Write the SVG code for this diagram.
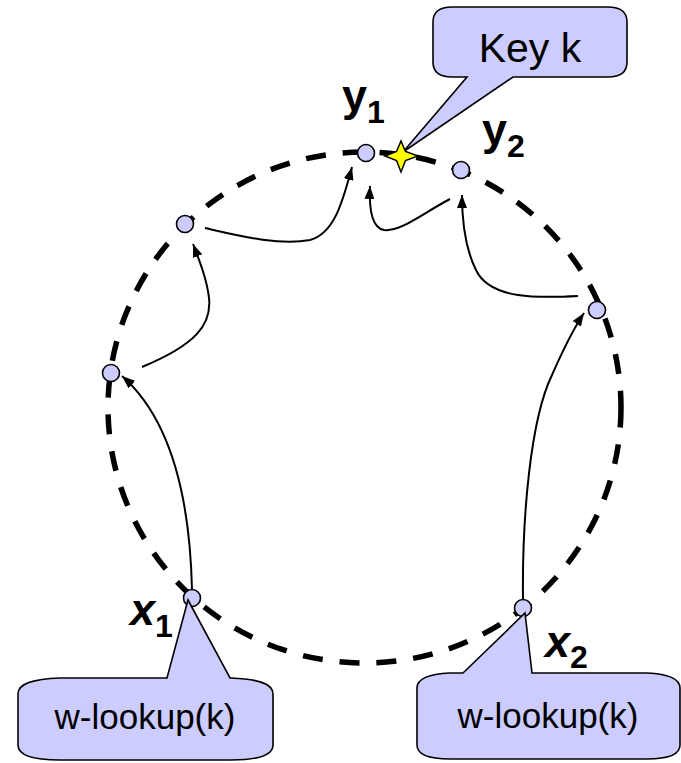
<svg xmlns="http://www.w3.org/2000/svg" width="681" height="763" viewBox="0 0 681 763">
  <style>
    .ring { fill: none; stroke: #000; stroke-width: 5.5; stroke-dasharray: 20 17; }
    .hop { fill: none; stroke: #000; stroke-width: 2; marker-end: url(#arrow); }
    .node { fill: #ccccff; stroke: #000; stroke-width: 1.6; }
    .callout { fill: #ccccff; stroke: #000; stroke-width: 1.6; stroke-linejoin: miter; }
    .callout-text { font-family: "Liberation Sans", Arial, sans-serif; fill: #000; text-anchor: middle; }
    .label { font-family: "Liberation Sans", Arial, sans-serif; font-weight: bold; font-size: 45px; fill: #000; }
    .sub { font-size: 32px; }
    .star { fill: #ffff00; stroke: #000; stroke-width: 1.5; stroke-linejoin: miter; }
  </style>
  <defs>
    <marker id="arrow" viewBox="0 0 13 10" refX="13" refY="5" markerWidth="13" markerHeight="10" markerUnits="userSpaceOnUse" orient="auto">
      <path d="M0,0 L13,5 L0,10 Z" fill="#000"/>
    </marker>
  </defs>

  <rect width="681" height="763" fill="#fff"/>

  <!-- identifier ring -->
  <ellipse class="ring" cx="364.5" cy="407.5" rx="256.5" ry="255.5"/>

  <!-- lookup hops -->
  <g id="connectors">
    <path class="hop" d="M192,590 C190,500 172,420 122,376"/>
    <path class="hop" d="M142,367 C195,345 212,325 209,298 C207,280 200,262 193,244"/>
    <path class="hop" d="M205,228 C240,236 280,246 310,240 C335,233 343,200 352,167"/>
    <path class="hop" d="M523,600 C522,520 530,420 552,375 C563,350 574,328 584,313"/>
    <path class="hop" d="M578,296 C540,298 490,300 476,270 C466,250 462,225 462,195"/>
    <path class="hop" d="M450,199 C420,215 400,232 384,230 C372,228 369,208 370,186"/>
  </g>

  <!-- peers on the ring -->
  <g id="node-y1"><circle class="node" cx="366" cy="153" r="8.5"/></g>
  <g id="node-y2"><circle class="node" cx="461" cy="170" r="8.5"/></g>
  <g id="node-a"><circle class="node" cx="185" cy="224" r="8.5"/></g>
  <g id="node-b"><circle class="node" cx="111" cy="373" r="8.5"/></g>
  <g id="node-c"><circle class="node" cx="597" cy="310" r="8.5"/></g>

  <!-- key callout -->
  <g id="key-callout">
    <path class="callout" d="M433,22 C433,12 440,7 452,7 H608 C620,7 627,12 627,22 V62 C627,72 620,77 608,77 H513 L403,152 L467,77 H452 C440,77 433,72 433,62 Z"/>
    <text class="callout-text" x="530" y="62" font-size="41">Key k</text>
  </g>

  <!-- key position -->
  <g id="key">
    <path class="star" d="M401,141 L405.5,151.5 L418,156 L405.5,160.5 L401,172 L396.5,160.5 L385,156 L396.5,151.5 Z"/>
  </g>

  <!-- lookup origins -->
  <g id="node-x1"><circle class="node" cx="192" cy="598" r="8.5"/></g>
  <g id="node-x2"><circle class="node" cx="523" cy="608" r="8.5"/></g>

  <g id="lookup-x1">
    <path class="callout" d="M18,694 C18,683 34,679 60,678 H167 L188,600 L230,678 H231 C257,679 273,683 273,694 V745 C273,756 257,760 231,760 H60 C34,760 18,756 18,745 Z"/>
    <text class="callout-text" x="145" y="729" font-size="35">w-lookup(k)</text>
  </g>

  <g id="lookup-x2">
    <path class="callout" d="M417,688 C417,678 430,674 450,673 H463 L525,613 L532,673 H647 C667,674 680,678 680,688 V745 C680,755 667,759 647,759 H450 C430,759 417,755 417,745 Z"/>
    <text class="callout-text" x="548" y="728" font-size="35">w-lookup(k)</text>
  </g>

  <!-- peer labels -->
  <text class="label" x="342" y="111">y<tspan class="sub" dy="12">1</tspan></text>
  <text class="label" x="482" y="145">y<tspan class="sub" dy="12">2</tspan></text>
  <text class="label" x="130" y="625" font-style="italic">x<tspan class="sub" dy="12" font-style="normal">1</tspan></text>
  <text class="label" x="545" y="657" font-style="italic">x<tspan class="sub" dy="11" font-style="normal">2</tspan></text>
</svg>
